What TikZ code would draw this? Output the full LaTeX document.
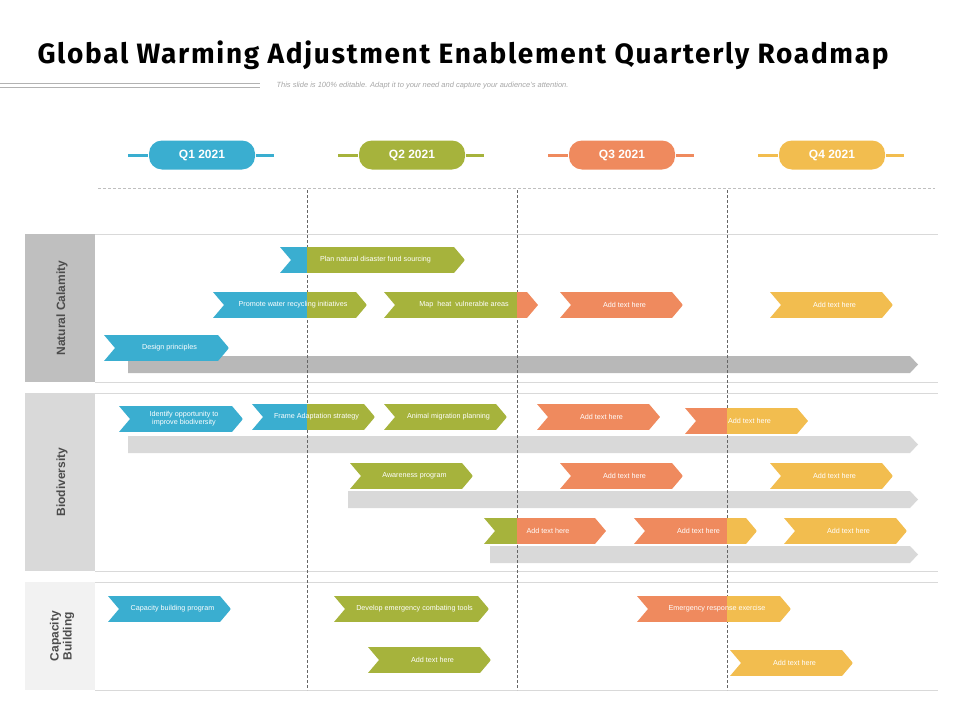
\documentclass[tikz,border=0pt]{standalone}
\usepackage{fontspec}
\setmainfont{Liberation Sans}
\newfontfamily\titlefont[LetterSpace=6]{Fira Sans}
\definecolor{qblue}{HTML}{3AAED0}
\definecolor{qolive}{HTML}{A6B33C}
\definecolor{qorange}{HTML}{EF8A5E}
\definecolor{qyellow}{HTML}{F2BD4F}
\tikzset{
  chevtext/.style={text=white,font=\fontsize{7.2}{8}\selectfont,align=center,inner sep=0pt},
  quarter/.style={rounded corners=13pt,minimum width=106pt,minimum height=29pt,text=white,font=\bfseries\fontsize{12}{13}\selectfont},
  rowlabel/.style={rotate=90,text=black!70,font=\bfseries\fontsize{12}{13}\selectfont,align=center},
  sepline/.style={black!15,line width=0.8pt},
  quarterline/.style={densely dashed,black!60,line width=0.5pt}
}
% chevron: name, x1, x2, y, split x, left colour, right colour, text
\newcommand{\chev}[8]{%
  \begin{scope}
    \clip (#2,#4-13) -- (#3-11,#4-13) -- (#3,#4) -- (#3-11,#4+13) -- (#2,#4+13) -- (#2+11,#4) -- cycle;
    \fill[#6] (#2,#4-13) rectangle (#5,#4+13);
    \fill[#7] (#5,#4-13) rectangle (#3,#4+13);
  \end{scope}
  \node[chevtext] (#1) at ({(#2+#3)/2+3},#4) {#8};}
% gray bar: x1, y, colour
\newcommand{\gbar}[3]{%
  \fill[#3] (#1,#2) -- (910,#2) -- (918,#2+8.5) -- (910,#2+17) -- (#1,#2+17) -- cycle;}
\begin{document}
\begin{tikzpicture}[x=1pt,y=-1pt]
  \useasboundingbox (0,0) rectangle (960,720);
  % title
  \node[anchor=west,font=\titlefont\bfseries\fontsize{28}{30}\selectfont] (title) at (34,55) {Global Warming Adjustment Enablement Quarterly Roadmap};
  \draw[black!30] (0,83) -- (260,83) (0,87) -- (260,87);
  \node[anchor=west,text=black!35,font=\itshape\fontsize{7.5}{8}\selectfont] (sub) at (273,86) {This slide is 100\% editable. Adapt it to your need and capture your audience's attention.};
  % quarters
  \foreach \qx/\qc/\qn in {202/qblue/Q1 2021,412/qolive/Q2 2021,622/qorange/Q3 2021,832/qyellow/Q4 2021}{
    \draw[\qc,line width=3pt] (\qx-74,155) -- (\qx-54,155) (\qx+54,155) -- (\qx+72,155);
    \node[quarter,fill=\qc] (q\qx) at (\qx,155) {\qn};
  }
  \draw[densely dashed,black!25] (98,188) -- (935,188);
  % row bands
  \fill[black!25] (25,234) rectangle (95,382);
  \fill[black!15] (25,393) rectangle (95,571);
  \fill[black!5] (25,582) rectangle (95,690);
  \node[rowlabel] (nc) at (62,308) {Natural Calamity};
  \node[rowlabel] (bio) at (62,482) {Biodiversity};
  \node[rowlabel] (cb) at (62,636) {Capacity\\Building};
  \foreach \ly in {234,382,393,571,582,690}
    \draw[sepline] (95,\ly) -- (938,\ly);
  % bars
  \gbar{128}{356}{black!28}
  \gbar{128}{436}{black!15}
  \gbar{348}{491}{black!15}
  \gbar{490}{546}{black!15}
  \foreach \vx in {307,517,727}
    \draw[quarterline] (\vx,190) -- (\vx,690);
  % natural calamity
  \chev{a1}{280}{465}{260}{307}{qblue}{qolive}{Plan natural disaster fund sourcing}
  \chev{a2}{213}{367}{305}{307}{qblue}{qolive}{Promote water recycling initiatives}
  \chev{a3}{384}{538}{305}{517}{qolive}{qorange}{Map\ \ heat\ \ vulnerable areas}
  \chev{a4}{560}{683}{305}{683}{qorange}{qorange}{Add text here}
  \chev{a5}{770}{893}{305}{893}{qyellow}{qyellow}{Add text here}
  \chev{a6}{104}{229}{348}{229}{qblue}{qblue}{Design principles}
  % biodiversity
  \chev{b1}{119}{243}{419}{243}{qblue}{qblue}{Identify opportunity to\\improve biodiversity}
  \chev{b2}{252}{375}{417}{307}{qblue}{qolive}{Frame Adaptation strategy}
  \chev{b3}{384}{507}{417}{507}{qolive}{qolive}{Animal migration planning}
  \chev{b4}{537}{660}{417}{660}{qorange}{qorange}{Add text here}
  \chev{b5}{685}{808}{421}{727}{qorange}{qyellow}{Add text here}
  \chev{b6}{350}{473}{476}{473}{qolive}{qolive}{Awareness program}
  \chev{b7}{560}{683}{476}{683}{qorange}{qorange}{Add text here}
  \chev{b8}{770}{893}{476}{893}{qyellow}{qyellow}{Add text here}
  \chev{b9}{484}{606}{531}{517}{qolive}{qorange}{Add text here}
  \chev{b10}{634}{757}{531}{727}{qorange}{qyellow}{Add text here}
  \chev{b11}{784}{907}{531}{907}{qyellow}{qyellow}{Add text here}
  % capacity building
  \chev{c1}{108}{231}{609}{231}{qblue}{qblue}{Capacity building program}
  \chev{c2}{334}{489}{609}{489}{qolive}{qolive}{Develop emergency combating tools}
  \chev{c3}{637}{791}{609}{727}{qorange}{qyellow}{Emergency response exercise}
  \chev{c4}{368}{491}{660}{491}{qolive}{qolive}{Add text here}
  \chev{c5}{730}{853}{663}{853}{qyellow}{qyellow}{Add text here}
\end{tikzpicture}
\end{document}
